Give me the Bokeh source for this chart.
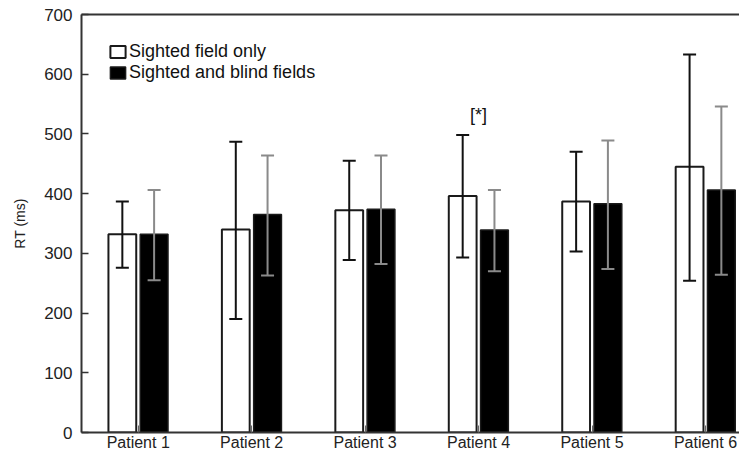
import numpy as np
from bokeh.plotting import figure
from bokeh.models import (ColumnDataSource, Range1d, FixedTicker, LinearAxis,
                          Whisker, TeeHead, Legend, LegendItem)
from bokeh.core.properties import value
from bokeh.embed import file_html
from bokeh.resources import INLINE

patients = ["Patient 1", "Patient 2", "Patient 3", "Patient 4", "Patient 5", "Patient 6"]
sighted_mean = [332, 340, 372, 396, 387, 445]
sighted_hi = [387, 487, 455, 498, 470, 633]
sighted_lo = [276, 190, 289, 293, 303, 254]
both_mean = [332, 365, 374, 339, 383, 406]
both_hi = [406, 464, 464, 406, 489, 546]
both_lo = [255, 263, 282, 270, 274, 264]
series_names = ["Sighted field only", "Sighted and blind fields"]
annot_patient = ["Patient 4"]
annot_value = [532]
annot_text = ["[*]"]

FONT = "Liberation Sans"
x = np.arange(1, len(patients) + 1)
off = 0.14
bw = 0.245

src = ColumnDataSource(dict(
    xw=x - off, xb=x + off,
    sm=sighted_mean, sh=sighted_hi, sl=sighted_lo,
    bm=both_mean, bh=both_hi, bl=both_lo,
))

p = figure(width=739, height=453, output_backend="svg", toolbar_location=None,
           x_range=Range1d(0.5, 6.30), y_range=Range1d(0, 700),
           min_border_left=81, min_border_top=14, min_border_bottom=20, min_border_right=0,
           x_axis_type=None, y_axis_type=None)
p.outline_line_color = None
p.xgrid.visible = False
p.ygrid.visible = False
p.background_fill_color = "white"
p.border_fill_color = "white"

AX = "#333333"
ly = LinearAxis(ticker=FixedTicker(ticks=[0, 100, 200, 300, 400, 500, 600, 700]))
ly.major_tick_in = 7
ly.major_tick_out = 0
ly.minor_tick_line_color = None
ly.axis_line_color = AX
ly.axis_line_width = 2
ly.major_tick_line_color = AX
ly.major_tick_line_width = 1.5
ly.major_label_text_font = FONT
ly.major_label_text_font_size = "17px"
ly.major_label_text_color = "#222222"
ly.major_label_standoff = 9
ly.axis_label = "RT (ms)"
ly.axis_label_text_font = FONT
ly.axis_label_text_font_size = "14px"
ly.axis_label_text_font_style = "normal"
ly.axis_label_text_color = "#222222"
ly.axis_label_standoff = 13
p.add_layout(ly, "left")

bx = LinearAxis(ticker=FixedTicker(ticks=list(x)))
bx.major_label_overrides = {int(i): n for i, n in zip(x, patients)}
bx.major_tick_in = 7
bx.major_tick_out = 0
bx.minor_tick_line_color = None
bx.axis_line_color = AX
bx.axis_line_width = 2
bx.major_tick_line_color = "#666666"
bx.major_tick_line_width = 1
bx.major_label_text_font = FONT
bx.major_label_text_font_size = "16px"
bx.major_label_text_color = "#222222"
bx.major_label_standoff = 1
p.add_layout(bx, "below")

tx = LinearAxis(ticker=FixedTicker(ticks=[]))
tx.axis_line_color = AX
tx.axis_line_width = 2
tx.major_tick_line_color = None
tx.minor_tick_line_color = None
tx.major_label_standoff = 0
p.add_layout(tx, "above")

r1 = p.vbar(x="xw", top="sm", bottom=0, width=bw, source=src,
            fill_color="white", line_color="#1a1a1a", line_width=2)
r2 = p.vbar(x="xb", top="bm", bottom=0, width=bw, source=src,
            fill_color="black", line_color="#1a1a1a", line_width=1.5)

w1 = Whisker(base="xw", upper="sh", lower="sl", source=src, level="annotation",
             line_color="#111111", line_width=2,
             upper_head=TeeHead(size=13, line_color="#111111", line_width=2),
             lower_head=TeeHead(size=13, line_color="#111111", line_width=2))
w2 = Whisker(base="xb", upper="bh", lower="bl", source=src, level="annotation",
             line_color="#8a8a8a", line_width=2,
             upper_head=TeeHead(size=13, line_color="#8a8a8a", line_width=2),
             lower_head=TeeHead(size=13, line_color="#8a8a8a", line_width=2))
p.add_layout(w1)
p.add_layout(w2)

ax_pos = [float(x[patients.index(a)]) for a in annot_patient]
p.text(x=ax_pos, y=annot_value, text=annot_text, text_font=value(FONT),
       text_font_size="18px", text_align="center", text_baseline="middle",
       text_color="#111111")

legend = Legend(items=[LegendItem(label=series_names[0], renderers=[r1]),
                       LegendItem(label=series_names[1], renderers=[r2])],
                location="top_left")
legend.margin = 27
legend.padding = 0
legend.spacing = 0
legend.glyph_width = 19
legend.glyph_height = 15
legend.label_standoff = 2
legend.label_text_font = FONT
legend.label_text_font_size = "18px"
legend.label_text_color = "#111111"
legend.label_height = 15
legend.background_fill_alpha = 0
legend.border_line_color = None
p.add_layout(legend)

open("out.html", "w").write(file_html(p, INLINE))
